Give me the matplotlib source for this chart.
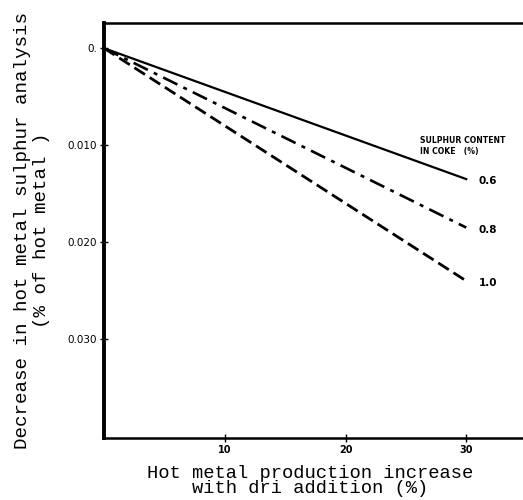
import numpy as np
import matplotlib.pyplot as plt

# ======================== Data =============================================
dri_addition = [0, 30]                     # hot metal production increase (%)
s_06 = [0.0, 0.0135]                       # sulphur in coke 0.6 %
s_08 = [0.0, 0.0185]                       # sulphur in coke 0.8 %
s_10 = [0.0, 0.0240]                       # sulphur in coke 1.0 %
curve_labels = ['0.6', '0.8', '1.0']
xtick_vals = [10, 20, 30]
xtick_text = ['10', '20', '30']
ytick_vals = [0.0, 0.010, 0.020, 0.030]
ytick_text = ['0.', '0.010', '0.020', '0.030']

# ============================== Plot =======================================
fig = plt.figure(figsize=(5.23, 5.0), dpi=100)
ax = fig.add_axes([0.199, 0.124, 0.801, 0.830])

ax.plot(dri_addition, s_06, color='black', lw=1.6, ls='-')
ax.plot(dri_addition, s_08, color='black', lw=1.9, ls=(0, (6, 2.5, 1.5, 2.5)))
ax.plot(dri_addition, s_10, color='black', lw=2.0, ls=(0, (4.5, 2)))

# end-of-curve labels
for yv, lab in zip([s_06[-1], s_08[-1], s_10[-1]], curve_labels):
    ax.text(31.0, yv + 0.0002, lab, fontsize=7.5, fontweight='bold',
            va='center', ha='left')

ax.text(26.2, 0.0101, 'SULPHUR CONTENT\nIN COKE   (%)', fontsize=5.6,
        fontweight='bold', va='center', ha='left', linespacing=1.25,
        family='Liberation Sans Narrow')

ax.set_xlim(0, 34.7)
ax.set_ylim(0.0402, -0.0026)

ax.set_xticks(xtick_vals)
ax.set_xticklabels(xtick_text, fontsize=7, fontweight='bold')
ax.set_yticks(ytick_vals)
ax.set_yticklabels(ytick_text, fontsize=7.5)
ax.tick_params(direction='inout', length=6, width=1.0, colors='black', pad=2)

ax.spines['left'].set_linewidth(2.8)
ax.spines['top'].set_linewidth(1.8)
ax.spines['bottom'].set_linewidth(1.8)
ax.spines['right'].set_visible(False)

ax.set_xlabel('Hot metal production increase\nwith dri addition (%)',
              family='Liberation Mono', fontsize=13.5, linespacing=0.9)
ax.xaxis.set_label_coords(0.492, -0.064)
ax.xaxis.label.set_va('top')

ax.set_ylabel('Decrease in hot metal sulphur analysis\n(% of hot metal )',
              family='Liberation Mono', fontsize=13.8, linespacing=1.1)
ax.yaxis.set_label_coords(-0.172, 0.50)
ax.yaxis.label.set_va('center')

plt.savefig('out.png', dpi=100)
